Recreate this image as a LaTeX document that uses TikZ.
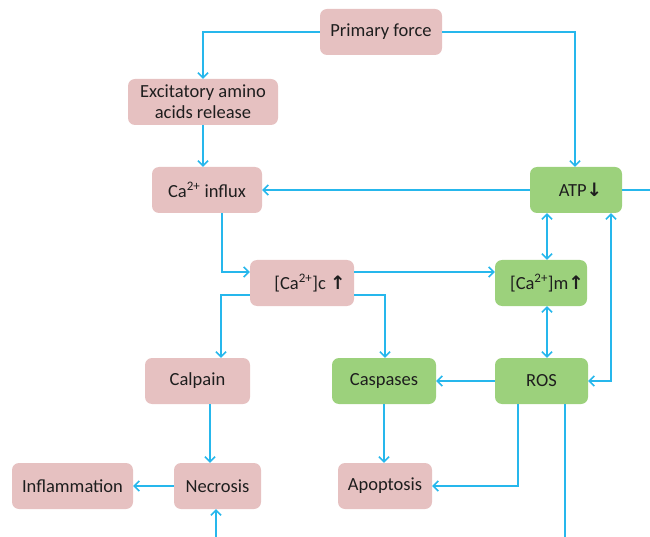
\documentclass[tikz,border=0pt]{standalone}
\usepackage{fontspec}
\setmainfont{Carlito}
\newfontfamily\arrfont{DejaVu Sans}
\usetikzlibrary{arrows.meta}
\definecolor{pinkbox}{RGB}{230,193,193}
\definecolor{greenbox}{RGB}{156,209,124}
\definecolor{linkc}{RGB}{38,183,236}
\definecolor{txt}{RGB}{30,30,30}
\newcommand{\up}{{\arrfont\bfseries ↑}}
\newcommand{\down}{{\arrfont\bfseries ↓}}
\begin{document}
\begin{tikzpicture}[x=1pt,y=-1pt,
 box/.style={rounded corners=7pt, minimum height=46pt, align=center, inner sep=2pt,
   font=\fontsize{18.5}{21}\selectfont, text=txt},
 pbox/.style={box, fill=pinkbox},
 gbox/.style={box, fill=greenbox},
 link/.style={draw=linkc, line width=1.6pt, -{Straight Barb[length=5pt,width=10pt]}},
 dlink/.style={link, {Straight Barb[length=5pt,width=10pt]}-{Straight Barb[length=5pt,width=10pt]}},
 plain/.style={draw=linkc, line width=1.6pt},
]
\useasboundingbox (0,0) rectangle (650,537);
\node[pbox, minimum width=122pt] (pf) at (381,32) {Primary force};
\node[pbox, minimum width=150pt] (exc) at (203,102) {Excitatory amino\\acids release};
\node[pbox, minimum width=110pt] (cain) at (207,190) {Ca\textsuperscript{2+} influx};
\node[gbox, minimum width=92pt] (atp) at (576,190) {\hspace*{9pt}ATP\down};
\node[pbox, minimum width=104pt] (cc) at (302,283) {\hspace*{16pt}[Ca\textsuperscript{2+}]c \up};
\node[gbox, minimum width=92pt] (cm) at (541,283) {\hspace*{12pt}[Ca\textsuperscript{2+}]m\up};
\node[pbox, minimum width=105pt] (calp) at (197.5,381) {Calpain};
\node[gbox, minimum width=104pt] (casp) at (384,381) {Caspases};
\node[gbox, minimum width=93pt] (ros) at (541.5,381) {ROS};
\node[pbox, minimum width=121pt] (infl) at (72.5,486) {Inflammation};
\node[pbox, minimum width=87pt] (nec) at (217.5,486) {Necrosis};
\node[pbox, minimum width=94pt] (apo) at (385,486) {Apoptosis};
\coordinate (edgeR) at (650,190);
\coordinate (edgeB) at (565,537);
\coordinate (necB) at (216,537);

\draw[link] (pf.west) -| (exc.north);
\draw[link] (pf.east) -| ([xshift=-1pt]atp.north);
\draw[link] (exc.south) -- (exc.south |- cain.north);
\draw[link] (atp.west) -- (cain.east);
\draw[plain] (atp.east) -- (edgeR);
\draw[link] ([xshift=15pt]cain.south) |- ([yshift=11pt]cc.west);
\draw[link] ([yshift=11pt]cc.east) -- ([yshift=11pt]cm.west);
\draw[link] ([yshift=-12pt]cc.west) -| ([xshift=23.5pt]calp.north);
\draw[link] ([yshift=-12pt]cc.east) -| ([xshift=1pt]casp.north);
\draw[dlink] ([xshift=6pt]cm.north) -- ([xshift=6pt]cm.north |- atp.south);
\draw[dlink] ([xshift=6pt]cm.south) -- ([xshift=6pt]cm.south |- ros.north);
\draw[dlink] ([xshift=35pt]atp.south) |- (ros.east);
\draw[link] (ros.west) -- (casp.east);
\draw[link] ([xshift=-23.5pt]ros.south) |- (apo.east);
\draw[plain] (edgeB |- ros.south) -- (edgeB);
\draw[link] ([xshift=12.5pt]calp.south) -- ([xshift=12.5pt]calp.south |- nec.north);
\draw[link] (necB) -- (necB |- nec.south);
\draw[link] (nec.west) -- (infl.east);
\draw[link] (casp.south) -- (casp.south |- apo.north);
\end{tikzpicture}
\end{document}
